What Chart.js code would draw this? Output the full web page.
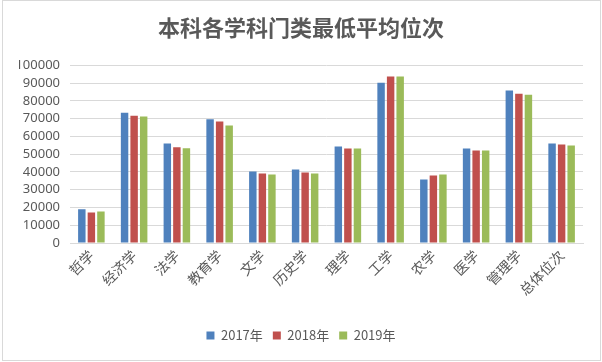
<!DOCTYPE html>
<html>
<head>
<meta charset="utf-8">
<script src="https://cdn.jsdelivr.net/npm/chart.js@4.4.0/dist/chart.umd.min.js"></script>
<style>
  html, body { margin: 0; padding: 0; background: #fff; }
  #box { width: 602px; height: 362px; position: relative; }
</style>
</head>
<body>
<div id="box"><canvas id="chart" width="602" height="362"></canvas></div>
<script>
'use strict';

// data
var subjects = ['哲学', '经济学', '法学', '教育学', '文学', '历史学', '理学', '工学', '农学', '医学', '管理学', '总体位次'];
var rank2017 = [19000, 73400, 56000, 69700, 40300, 41400, 54300, 90300, 35800, 53200, 85800, 56000];
var rank2018 = [17200, 71700, 53900, 68400, 39100, 39700, 53200, 93800, 38000, 52100, 84100, 55400];
var rank2019 = [17800, 71200, 53400, 66100, 38600, 39100, 53200, 93800, 38600, 52100, 83500, 54900];
var yTicks = [0, 10000, 20000, 30000, 40000, 50000, 60000, 70000, 80000, 90000, 100000];

var fontCJK = '"Noto Sans CJK SC", "Noto Sans", sans-serif';
var textGray = '#595959';

// thin grey frame round the whole chart
var framePlugin = {
  id: 'frame',
  afterDraw: function(chart) {
    var ctx = chart.ctx;
    ctx.save();
    ctx.strokeStyle = '#d9d9d9';
    ctx.lineWidth = 1;
    ctx.strokeRect(2.5, 0.5, 598, 360);
    ctx.restore();
  }
};

var ctx = document.getElementById('chart').getContext('2d');
var chart = new Chart(ctx, { //eslint-disable-line
  type: 'bar',
  data: {
    labels: subjects,
    datasets: [
      { label: '2017年', data: rank2017, backgroundColor: '#4F81BD' },
      { label: '2018年', data: rank2018, backgroundColor: '#C0504D' },
      { label: '2019年', data: rank2019, backgroundColor: '#9BBB59' }
    ]
  },
  options: {
    responsive: false,
    animation: false,
    layout: { padding: { left: 19, right: 19, top: 0, bottom: 10 } },
    datasets: {
      bar: { categoryPercentage: 0.67, barPercentage: 0.78 }
    },
    plugins: {
      title: {
        display: true,
        text: '本科各学科门类最低平均位次',
        color: textGray,
        font: { family: fontCJK, size: 22, weight: 'bold', lineHeight: 1.2 },
        padding: { top: 14, bottom: 25 }
      },
      legend: {
        position: 'bottom',
        labels: {
          color: textGray,
          font: { family: fontCJK, size: 13 },
          boxWidth: 8,
          boxHeight: 8,
          padding: 10
        }
      },
      tooltip: { enabled: false }
    },
    scales: {
      x: {
        grid: { display: false, drawTicks: false },
        border: { display: true, color: '#d9d9d9' },
        ticks: {
          color: textGray,
          font: { family: fontCJK, size: 14 },
          maxRotation: 45,
          minRotation: 45,
          autoSkip: false,
          padding: 4
        },
        afterFit: function(scale) { scale.height = 76; }
      },
      y: {
        min: 0,
        max: 100000,
        afterBuildTicks: function(scale) {
          scale.ticks = yTicks.map(function(v) { return { value: v }; });
        },
        grid: { color: '#d9d9d9', drawTicks: false },
        border: { display: false },
        ticks: {
          color: textGray,
          font: { family: '"Noto Sans", sans-serif', size: 13 },
          autoSkip: false,
          padding: 10,
          callback: function(value) { return String(value); }
        },
        afterFit: function(scale) { scale.width = 51; }
      }
    }
  },
  plugins: [framePlugin]
});
</script>
</body>
</html>
